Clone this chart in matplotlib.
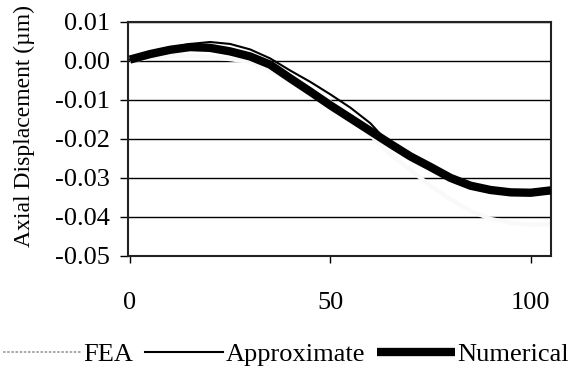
import matplotlib
matplotlib.use("Agg")
import matplotlib.pyplot as plt
from matplotlib.lines import Line2D

# ---- data ----
x_pos = [0, 5, 10, 15, 20, 25, 30, 35, 40, 45, 50, 55, 60, 65, 70, 75, 80, 85, 90, 95, 100, 105]
numerical = [0.0003, 0.0017, 0.0028, 0.0035, 0.0033, 0.0024, 0.0011, -0.0010, -0.0045, -0.0079,
             -0.0114, -0.0147, -0.0180, -0.0213, -0.0245, -0.0272, -0.0300, -0.0320, -0.0331,
             -0.0337, -0.0338, -0.0332]
approximate = [0.0003, 0.0020, 0.0033, 0.0043, 0.0048, 0.0043, 0.0029, 0.0006, -0.0025, -0.0054,
               -0.0086, -0.0120, -0.0160, -0.0216, -0.0249, -0.0277, -0.0302, -0.0321, -0.0332,
               -0.0338, -0.0339, -0.0333]
fea = [0.0000, 0.0008, 0.0012, 0.0012, 0.0009, 0.0004, -0.0003, -0.0025, -0.0048, -0.0077,
       -0.0106, -0.0148, -0.0190, -0.0240, -0.0280, -0.0320, -0.0355, -0.0385, -0.0405,
       -0.0415, -0.0420, -0.0418]
y_ticks = [0.01, 0.00, -0.01, -0.02, -0.03, -0.04, -0.05]
y_tick_labels = ["0.01", "0.00", "-0.01", "-0.02", "-0.03", "-0.04", "-0.05"]
x_ticks = [0, 50, 100]
x_tick_labels = ["0", "50", "100"]
series_names = ["FEA", "Approximate", "Numerical"]

plt.rcParams['font.family'] = ['Liberation Serif', 'DejaVu Serif']

fig = plt.figure(figsize=(5.81, 3.72), dpi=100)
ax = fig.add_axes([128.3 / 581, 1 - 256 / 372, (550.7 - 128.3) / 581, (256 - 21.7) / 372])

ax.set_xlim(-0.4, 105)
ax.set_ylim(-0.05, 0.01)

for yt in y_ticks:
    ax.axhline(yt, color='black', lw=1.0, zorder=1)

ax.plot(x_pos, fea, color='#f9f9f9', lw=3.0, zorder=2, solid_capstyle='butt')
ax.plot(x_pos, approximate, color='black', lw=1.5, zorder=3)
ax.plot(x_pos, numerical, color='black', lw=6.0, zorder=4, solid_capstyle='butt')

ax.set_yticks(y_ticks)
ax.set_yticklabels(y_tick_labels)
ax.set_xticks(x_ticks)
ax.set_xticklabels(x_tick_labels)
ax.tick_params(axis='y', labelsize=19, length=6, width=1, pad=7, direction='out')
ax.tick_params(axis='x', labelsize=19, length=5, width=1, pad=21, direction='out')

for sp in ax.spines.values():
    sp.set_color('#222222')
    sp.set_linewidth(1.5)

ax.set_ylabel("Axial Displacement (µm)", fontsize=17)
ax.yaxis.set_label_coords(-0.222, 0.553)

handles = [
    Line2D([], [], color='#9a9a9a', lw=1.2, ls=(0, (1.5, 1))),
    Line2D([], [], color='black', lw=1.5),
    Line2D([], [], color='black', lw=6.0, solid_capstyle='butt'),
]
fig.legend(handles, series_names, loc='center', bbox_to_anchor=(0.492, 1 - 354 / 372),
           ncol=3, frameon=False, fontsize=19, handlelength=2.95, handletextpad=0.1,
           columnspacing=0.45, borderaxespad=0)

fig.savefig("out.png", dpi=100)
